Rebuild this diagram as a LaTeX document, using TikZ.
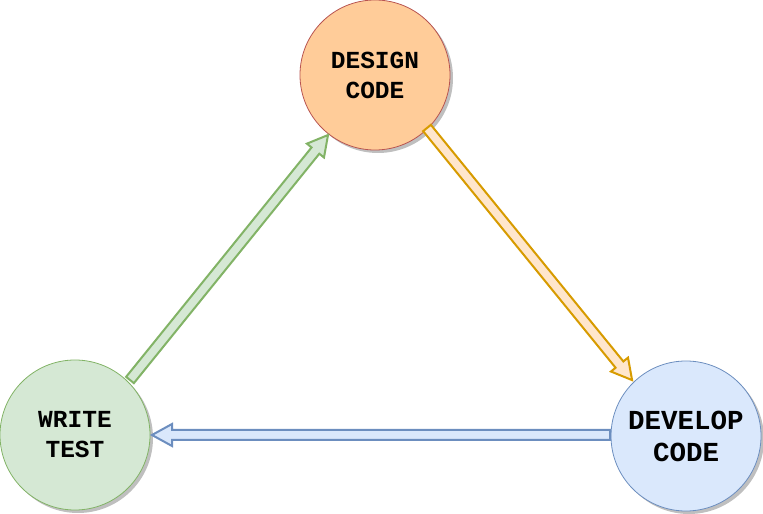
\documentclass[tikz,border=0pt]{standalone}
\usepackage{fontspec}
\setmonofont{Liberation Mono}
\begin{document}
\begin{tikzpicture}[x=1pt,y=1pt,
  circ/.style={circle,minimum size=150pt,inner sep=0pt,font=\ttfamily\bfseries\fontsize{24.5}{30}\selectfont,align=center,line width=0.8pt},
  shad/.style={circle,minimum size=150pt,inner sep=0pt,fill=black!25,draw=none},
  farrow/.style={line width=2pt,line join=miter}]
\useasboundingbox (0,0) rectangle (763,514);
\definecolor{orf}{HTML}{FFCC99}\definecolor{ors}{HTML}{B85450}
\definecolor{grf}{HTML}{D5E8D4}\definecolor{grs}{HTML}{82B366}
\definecolor{blf}{HTML}{DAE8FC}\definecolor{bls}{HTML}{6C8EBF}
\definecolor{oaf}{HTML}{FFE6CC}\definecolor{oas}{HTML}{D79B00}
\node[shad] at (378,436) {};
\node[shad] at (78,76) {};
\node[shad] at (689,75) {};
\node[circ,fill=orf,draw=ors] (d) at (375,439) {DESIGN\\CODE};
\node[circ,fill=grf,draw=grs] (w) at (75,79) {WRITE\\TEST};
\node[circ,fill=blf,draw=bls,font=\ttfamily\bfseries\fontsize{27.5}{32}\selectfont] (v) at (686,78) {DEVELOP\\CODE};
% green arrow
\draw[farrow,draw=grs,fill=grf,shift={(130,134)},rotate=51.05]
 (0,-5) -- (295,-5) -- (295,-11) -- (315,0) -- (295,11) -- (295,5) -- (0,5) -- cycle;
% orange arrow
\draw[farrow,draw=oas,fill=oaf,shift={(427,386)},rotate=-50.87]
 (0,-5) -- (305,-5) -- (305,-11) -- (325,0) -- (305,11) -- (305,5) -- (0,5) -- cycle;
% blue arrow
\draw[farrow,draw=bls,fill=blf,shift={(610,79)},rotate=180]
 (0,-5) -- (438,-5) -- (438,-11) -- (458,0) -- (438,11) -- (438,5) -- (0,5) -- cycle;
\end{tikzpicture}
\end{document}
